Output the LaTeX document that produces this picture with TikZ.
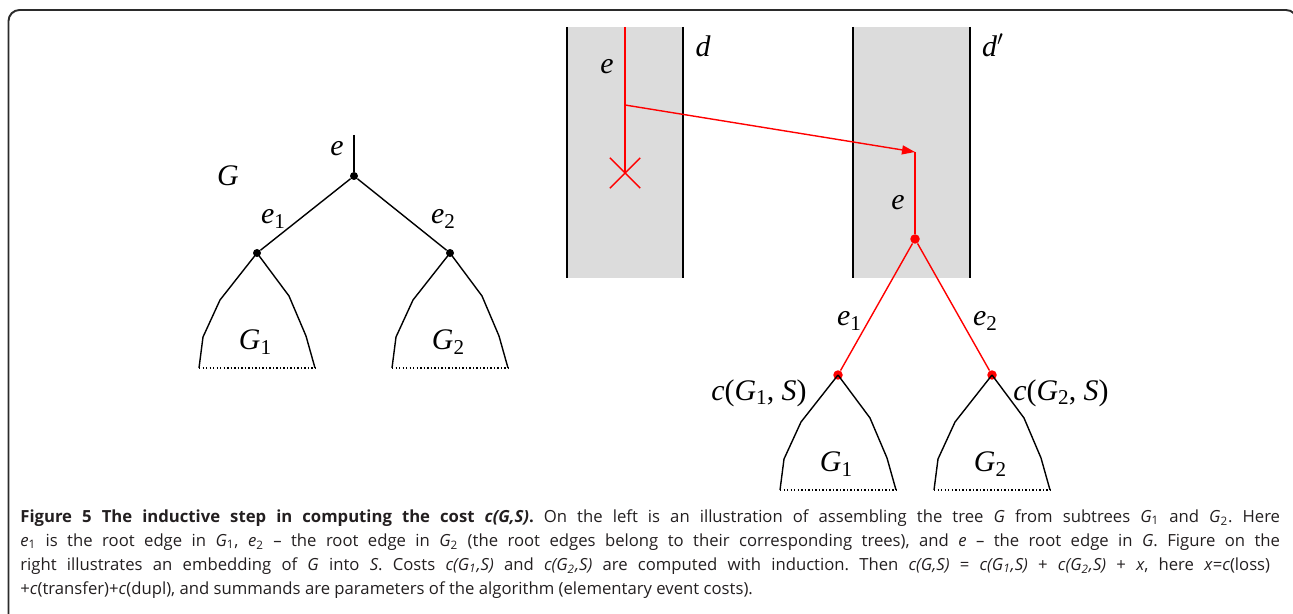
\documentclass[tikz,border=0pt]{standalone}
\usepackage{fontspec}
\setmainfont{Liberation Serif}
\newfontfamily\capfont{Open Sans}
\usetikzlibrary{positioning,arrows.meta,shapes.misc}
\definecolor{bandgrey}{HTML}{DCDCDC}
\definecolor{embedred}{HTML}{FF0000}
\definecolor{framegrey}{HTML}{2B2B2B}
\definecolor{captext}{HTML}{231F20}
\newcommand{\sbs}[1]{\raisebox{-0.35ex}{\fontsize{12}{12}\selectfont #1}}
\frenchspacing

\begin{document}
\begin{tikzpicture}[
    x=0.02cm, y=-0.02cm,
    br/.style={line width=0.8pt, line join=round},
    rbr/.style={line width=0.8pt, color=embedred},
    dot/.style={circle, fill=black, inner sep=0pt, minimum size=0.16cm},
    rdot/.style={circle, fill=embedred, inner sep=0pt, minimum size=0.19cm},
    lost/.style={cross out, draw=embedred, line width=0.8pt, inner sep=0pt, minimum size=0.58cm},
    bandedge/.style={line width=0.8pt},
    lbl/.style={font=\fontsize{17}{19}\selectfont, inner sep=0pt},
    capline/.style={font=\capfont\fontsize{9.5}{11}\selectfont, text=captext, anchor=base west, inner sep=0pt},
    frame/.style={draw=framegrey, line width=1.1pt, rounded corners=0.22cm},
    pics/subtree/.style={code={
      \draw[br] (0,0) -- (-37,47) -- (-54,84) -- (-58,115);
      \draw[br] (0,0) -- (32,43) -- (49,83) -- (58,115);
      \draw[line width=0.8pt, dash pattern=on 0.8pt off 1.2pt] (-58,115) -- (58,115);
      \node[lbl] at (-2,89) {#1};
    }}
  ]
  \useasboundingbox (0,0) rectangle (1293,614);
  \clip (0,0) rectangle (1293,614);

  % ---- cadre -----------------------------------------------------------
  \draw[frame] (8.5,10) rectangle (1297,650);

  % ---- arbre G a gauche ------------------------------------------------
  \coordinate (ltop) at (354,135);
  \node[dot] (lr) at (354,176) {};
  \node[dot] (la) at (257,253) {};
  \node[dot] (lb) at (450,253) {};
  \draw[br] (ltop) -- (lr);
  \draw[br] (lr) -- (la);
  \draw[br] (lr) -- (lb);
  \pic at (la) {subtree={\textit{G}\sbs{1}}};
  \pic at (lb) {subtree={\textit{G}\sbs{2}}};
  \node[lbl] (le) at (337,149) {\textit{e}};
  \node[lbl] (lg) at (228,176) {\textit{G}};
  \node[lbl] (le1) at (273,219) {\textit{e}\sbs{1}};
  \node[lbl] (le2) at (443,219) {\textit{e}\sbs{2}};

  % ---- bandes grises d et d' --------------------------------------------
  \fill[bandgrey] (567,27) rectangle (683,278);
  \fill[bandgrey] (853,27) rectangle (970,278);
  \draw[bandedge] (567,27) -- (567,278);
  \draw[bandedge] (683,27) -- (683,278);
  \draw[bandedge] (853,27) -- (853,278);
  \draw[bandedge] (970,27) -- (970,278);
  \node[lbl] (dl) at (703,46) {\textit{d}};
  \node[lbl] (dr) at (993,45) {\textit{d}$'$};

  % ---- plongement de G dans S (en rouge) ---------------------------------
  \coordinate (rtop) at (625,27);
  \coordinate (split) at (625,105);
  \coordinate (land) at (915,152);
  \node[lost] (loss) at (625,173) {};
  \draw[rbr] (rtop) -- (loss.center);
  \draw[rbr, -{Triangle[length=0.26cm, width=0.18cm]}] (split) -- (land);
  \node[rdot] (rr) at (915,239) {};
  \node[rdot] (ra) at (838,375) {};
  \node[rdot] (rb) at (992,375) {};
  \draw[rbr] (land) -- (rr);
  \draw[rbr] (rr) -- (ra);
  \draw[rbr] (rr) -- (rb);
  \pic at (ra) {subtree={\textit{G}\sbs{1}}};
  \pic at (rb) {subtree={\textit{G}\sbs{2}}};
  \node[lbl] (re) at (607,67) {\textit{e}};
  \node[lbl] (rel) at (898,203) {\textit{e}};
  \node[lbl] (re1) at (849,321) {\textit{e}\sbs{1}};
  \node[lbl] (re2) at (985,321) {\textit{e}\sbs{2}};
  \node[lbl] (ca) at (759,393) {\textit{c}(\textit{G}\sbs{1}, \textit{S})};
  \node[lbl] (cb) at (1061,393) {\textit{c}(\textit{G}\sbs{2}, \textit{S})};

  % ---- legende -----------------------------------------------------------
  \node[capline] (cap1) at (20,522) {\makebox[25.2cm][s]{\textbf{Figure 5 The inductive step in computing the cost \textit{c(G,S)}.} On the left is an illustration of assembling the tree \textit{G} from subtrees \textit{G}\textsubscript{1} and \textit{G}\textsubscript{2}. Here}};
  \node[capline] (cap2) at (20,546) {\makebox[25.2cm][s]{\textit{e}\textsubscript{1} is the root edge in \textit{G}\textsubscript{1}, \textit{e}\textsubscript{2} \textendash{} the root edge in \textit{G}\textsubscript{2} (the root edges belong to their corresponding trees), and \textit{e} \textendash{} the root edge in \textit{G}. Figure on the}};
  \node[capline] (cap3) at (20,570) {\makebox[25cm][s]{right illustrates an embedding of \textit{G} into \textit{S}. Costs \textit{c(G\textsubscript{1},S)} and \textit{c(G\textsubscript{2},S)} are computed with induction. Then \textit{c(G,S)} = \textit{c(G\textsubscript{1},S)} + \textit{c(G\textsubscript{2},S)} + \textit{x}, here \textit{x}=\textit{c}(loss)}};
  \node[capline] (cap4) at (20,594) {+\textit{c}(transfer)+\textit{c}(dupl), and summands are parameters of the algorithm (elementary event costs).};

\end{tikzpicture}
\end{document}
